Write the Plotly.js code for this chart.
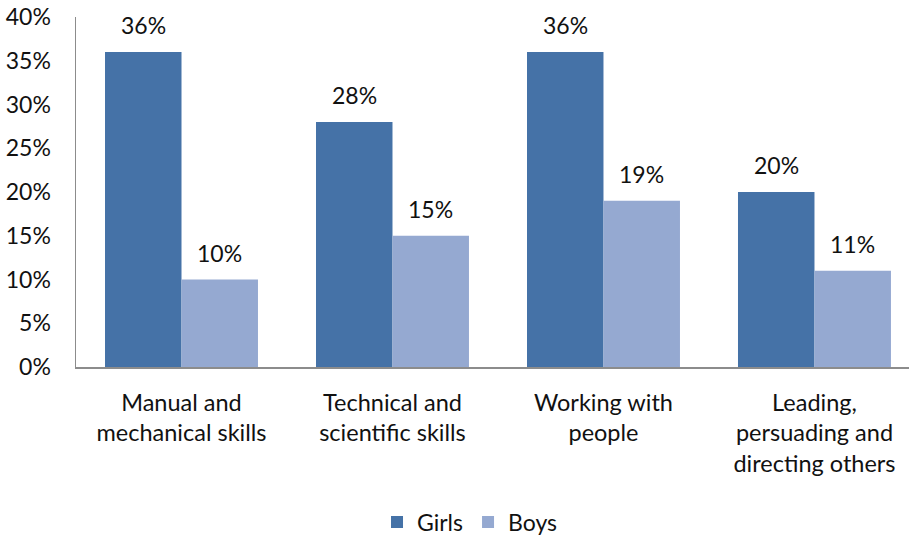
<!DOCTYPE html>
<html><head><meta charset="utf-8">
<script src="https://cdn.plot.ly/plotly-3.0.1.min.js"></script>
<style>html,body{margin:0;padding:0;background:#fff}#c{width:909px;height:537px}</style>
</head><body><div id="c"></div>
<script>
const categories = ["Manual and<br>mechanical skills","Technical and<br>scientific skills","Working with<br>people","Leading,<br>persuading and<br>directing others"];
const girls = [36, 28, 36, 20];
const boys = [10, 15, 19, 11];
const seriesNames = ["Girls","Boys"];
const colors = ["#4572A7","#95A9D1"];
const font = "Lato, 'Open Sans', sans-serif";

const traces = [girls, boys].map((v,i)=>({
  type:'bar', x:categories, y:v, name:seriesNames[i],
  marker:{color:colors[i]}, hoverinfo:'none'
}));
const annotations = [];
[girls, boys].forEach((v,i)=>{
  v.forEach((val,j)=>{
    annotations.push({x:categories[j], y:val, xref:'x', yref:'y', text:val+'%',
      showarrow:false, yanchor:'bottom', xshift:(i===0?-38:38), yshift:11,
      font:{family:font,size:23,color:'#111'}});
  });
});
Plotly.newPlot('c', traces, {
  width:909, height:537, barmode:'group', bargap:0.275, bargroupgap:0,
  margin:{l:76,r:0,t:17,b:170,autoexpand:false},
  paper_bgcolor:'#fff', plot_bgcolor:'#fff',
  font:{family:font,size:23,color:'#111'},
  xaxis:{range:[-0.5,3.448], showline:true, linecolor:'#8c8c8c', linewidth:1.5, ticks:'', tickfont:{size:23.5}, ticklabelstandoff:14, showgrid:false, zeroline:false},
  yaxis:{range:[0,40], dtick:5, ticksuffix:'%', showline:true, linecolor:'#8c8c8c', linewidth:1.5, ticks:'', showgrid:false, zeroline:false, tickfont:{size:23}, ticklabelstandoff:19},
  showlegend:true,
  legend:{orientation:'h', x:0.473, xanchor:'center', y:-0.443, yanchor:'middle', font:{size:23}, itemwidth:30, traceorder:'normal'},
  annotations:annotations
}, {displayModeBar:false, staticPlot:true});
</script></body></html>
